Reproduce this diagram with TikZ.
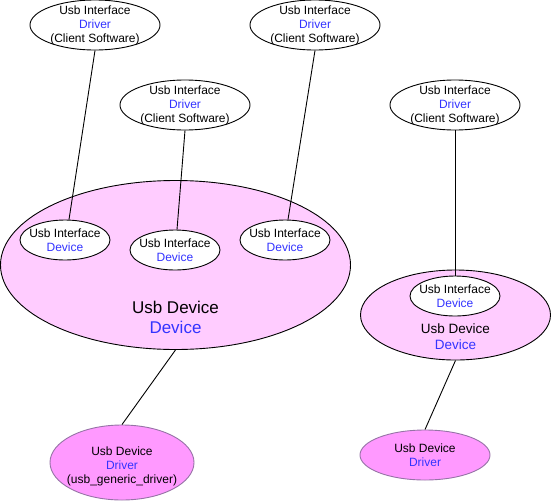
\documentclass[tikz,border=0pt]{standalone}
\usepackage{fontspec}
\setmainfont{Liberation Sans}
\usetikzlibrary{shapes.geometric}
\definecolor{blu}{HTML}{3333FF}
\definecolor{pinkA}{HTML}{FFCCFF}
\definecolor{pinkB}{HTML}{FF99FF}
\definecolor{purp}{HTML}{9673A6}
\tikzset{
  ell/.style={ellipse, draw=black, line width=0.9pt, fill=white, inner sep=0pt},
  txt/.style={align=center, inner sep=0pt, font=\fontsize{12}{13.8}\selectfont},
  conn/.style={draw=black, line width=0.9pt},
}
\newcommand{\bl}[1]{\textcolor{blu}{#1}}
\begin{document}
\begin{tikzpicture}[x=1pt,y=-1pt]
\useasboundingbox (0,0) rectangle (551,501);
% big usb device
\node[ell, fill=pinkA, minimum width=350pt, minimum height=169pt] (big) at (175.5,265) {};
\node[txt, font=\fontsize{17}{20}\selectfont] (bigt) at (175.5,317) {Usb Device\\\bl{Device}};
% right usb device
\node[ell, fill=pinkA, minimum width=190pt, minimum height=90pt] (rdev) at (455.5,315) {};
\node[txt, font=\fontsize{13.5}{16}\selectfont] (rdevt) at (455.5,337) {Usb Device\\\bl{Device}};
% interface devices
\node[ell, minimum width=90pt, minimum height=40pt] (i1) at (65,240) {};
\node[txt, font=\fontsize{12}{14.5}\selectfont] (i1t) at (i1) {Usb Interface\\\bl{Device}};
\node[ell, minimum width=90pt, minimum height=40pt] (i2) at (175,250) {};
\node[txt, font=\fontsize{12}{14.5}\selectfont] (i2t) at (i2) {Usb Interface\\\bl{Device}};
\node[ell, minimum width=90pt, minimum height=40pt] (i3) at (285,240) {};
\node[txt, font=\fontsize{12}{14.5}\selectfont] (i3t) at (i3) {Usb Interface\\\bl{Device}};
\node[ell, minimum width=90pt, minimum height=40pt] (i4) at (455,296) {};
\node[txt, font=\fontsize{12}{14.5}\selectfont] (i4t) at (i4) {Usb Interface\\\bl{Device}};
% drivers
\node[ell, minimum width=130pt, minimum height=50pt] (d1) at (95,25) {};
\node[txt] (d1t) at (95,25.5) {Usb Interface\\\bl{Driver}\\(Client Software)};
\node[ell, minimum width=130pt, minimum height=50pt] (d2) at (185,105) {};
\node[txt] (d2t) at (185,105.5) {Usb Interface\\\bl{Driver}\\(Client Software)};
\node[ell, minimum width=130pt, minimum height=50pt] (d3) at (315,25) {};
\node[txt] (d3t) at (315,25.5) {Usb Interface\\\bl{Driver}\\(Client Software)};
\node[ell, minimum width=130pt, minimum height=50pt] (d4) at (455,105) {};
\node[txt] (d4t) at (455,105.5) {Usb Interface\\\bl{Driver}\\(Client Software)};
% usb device drivers
\node[ell, draw=purp, fill=pinkB, minimum width=144pt, minimum height=75pt] (gd) at (122,462.5) {};
\node[txt] (gdt) at (122,466.5) {Usb Device\\\bl{Driver}\\(usb\_generic\_driver)};
\node[ell, draw=purp, fill=pinkB, minimum width=130pt, minimum height=50pt] (rd) at (425,455) {};
\node[txt] (rdt) at (425,455.5) {Usb Device\\\bl{Driver}};
% connectors
\draw[conn] (d1.south) -- ([xshift=4pt]i1.north);
\draw[conn] (d2.south) -- ([xshift=2pt]i2.north);
\draw[conn] (d3.south) -- ([xshift=3pt]i3.north);
\draw[conn] (d4.south) -- (i4.north);
\draw[conn] (big.south) -- (gd.north);
\draw[conn] (rdev.south) -- (rd.north);
\end{tikzpicture}
\end{document}
